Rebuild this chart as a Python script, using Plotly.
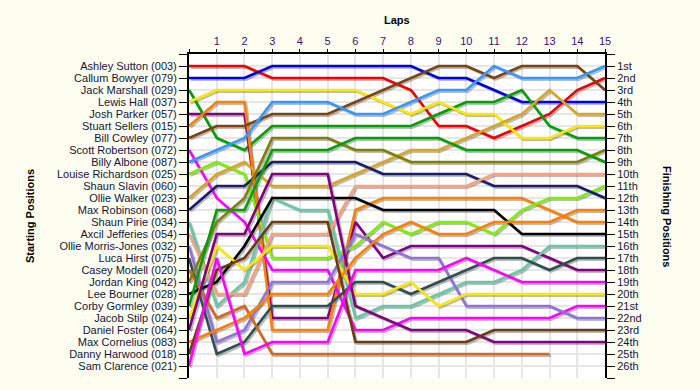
import plotly.graph_objects as go

laps = list(range(0, 16))

drivers = ["Ashley Sutton (003)", "Callum Bowyer (079)", "Jack Marshall (029)", "Lewis Hall (037)",
           "Josh Parker (057)", "Stuart Sellers (015)", "Bill Cowley (077)", "Scott Robertson (072)",
           "Billy Albone (087)", "Louise Richardson (025)", "Shaun Slavin (060)", "Ollie Walker (023)",
           "Max Robinson (068)", "Shaun Pirie (034)", "Axcil Jefferies (054)", "Ollie Morris-Jones (032)",
           "Luca Hirst (075)", "Casey Modell (020)", "Jordan King (042)", "Lee Bourner (028)",
           "Corby Gormley (039)", "Jacob Stilp (024)", "Daniel Foster (064)", "Max Cornelius (083)",
           "Danny Harwood (018)", "Sam Clarence (021)"]

finish_labels = ["1st", "2nd", "3rd", "4th", "5th", "6th", "7th", "8th", "9th", "10th", "11th", "12th", "13th",
                 "14th", "15th", "16th", "17th", "18th", "19th", "20th", "21st", "22nd", "23rd", "24th", "25th", "26th"]

# positions at start (lap 0) and after laps 1..15
sutton    = [1, 1, 1, 2, 2, 2, 2, 2, 3, 6, 6, 7, 6, 5, 3, 2]
bowyer    = [2, 2, 2, 1, 1, 1, 1, 1, 1, 2, 2, 3, 4, 4, 4, 4]
marshall  = [3, 7, 8, 6, 6, 6, 6, 6, 6, 5, 4, 4, 3, 6, 7, 7]
hall      = [4, 3, 3, 3, 3, 3, 3, 4, 5, 4, 5, 5, 7, 7, 6, 6]
parker    = [5, 5, 5, 22, 22, 22, 14, 17, 16, 16, 16, 16, 16, 17, 18, 18]
sellers   = [6, 4, 4, 23, 23, 23, 13, 12, 12, 12, 12, 12, 12, 13, 14, 14]
cowley    = [7, 6, 6, 5, 5, 5, 4, 3, 2, 1, 1, 2, 1, 1, 1, 3]
robertson = [8, 12, 14, 18, 18, 18, 23, 23, 22, 22, 22, 22, 22, 22, 21, 21]
albone    = [9, 8, 7, 4, 4, 4, 5, 5, 4, 3, 3, 1, 2, 2, 2, 1]
richardson = [10, 9, 10, 17, 17, 17, 16, 14, 15, 14, 14, 15, 13, 12, 12, 11]
slavin    = [None] * 16
walker    = [12, 10, 9, 11, 11, 11, 10, 9, 8, 8, 7, 6, 5, 3, 5, 5]
robinson  = [13, 11, 11, 9, 9, 9, 9, 10, 10, 10, 10, 11, 11, 11, 11, 12]
pirie     = [14, 21, 19, 12, 13, 13, 22, 21, 21, 20, 19, 19, 18, 16, 16, 16]
jefferies = [15, 20, 20, 15, 15, 15, 11, 11, 11, 11, 11, 10, 10, 10, 10, 10]
morris_jones = [16, 24, 23, 19, 19, 19, 15, 16, 17, 17, 21, 21, 21, 21, 22, 22]
hirst     = [17, 25, 24, 21, 21, 21, 19, 19, 20, 19, 18, 17, 17, 18, 17, 17]
modell    = [18, 22, 21, 25, 25, 25, 25, 25, 25, 25, 25, 25, 25, 25, None, None]
king      = [19, 14, 12, 7, 7, 7, 8, 8, 9, 9, 9, 9, 9, 9, 9, 8]
bourner   = [20, 19, 16, 12, 12, 12, 12, 13, 13, 13, 13, 13, 15, 15, 15, 15]
gormley   = [21, 13, 13, 8, 8, 8, 7, 7, 7, 7, 8, 8, 8, 8, 8, 9]
stilp     = [22, 16, 18, 16, 16, 16, 20, 20, 19, 21, 20, 20, 20, 20, 20, 20]
foster    = [23, 15, 15, 10, 10, 10, 21, 22, 23, 23, 23, 24, 24, 24, 24, 24]
cornelius = [24, 23, 22, 20, 20, 20, 17, 15, 14, 15, 15, 14, 14, 14, 13, 13]
harwood   = [25, 18, 17, 14, 14, 14, 24, 24, 24, 24, 24, 23, 23, 23, 23, 23]
clarence  = [26, 17, 25, 24, 24, 24, 18, 18, 18, 18, 17, 18, 19, 19, 19, 19]

series = [sutton, bowyer, marshall, hall, parker, sellers, cowley, robertson, albone, richardson,
          slavin, walker, robinson, pirie, jefferies, morris_jones, hirst, modell, king, bourner,
          gormley, stilp, foster, cornelius, harwood, clarence]

colors = ["#f00000", "#0000e0", "#00a000", "#ffe800", "#800080", "#ff8000", "#7d4310", "#ff00ff",
          "#3399ff", "#7cf000", "#888888", "#daa520", "#1c1c6c", "#66c8a8", "#ffa07a", "#9370db",
          "#2f4f4f", "#d2691e", "#808000", "#000000", "#00a000", "#ffe800", "#800080", "#ff8000",
          "#6b3a10", "#ff00ff"]

fig = go.Figure()

# dummy trace for the base (visible) axes
fig.add_trace(go.Scatter(x=[None], y=[None], xaxis="x", yaxis="y", showlegend=False, hoverinfo="skip"))

# shadows
for name, vals in zip(drivers, series):
    fig.add_trace(go.Scatter(x=laps, y=vals, mode="lines", xaxis="x2", yaxis="y2",
                             line=dict(color="rgba(60,60,60,0.35)", width=2.6),
                             showlegend=False, hoverinfo="skip"))
# lines
for name, vals, c in zip(drivers, series, colors):
    fig.add_trace(go.Scatter(x=laps, y=vals, mode="lines", name=name, xaxis="x3", yaxis="y3",
                             line=dict(color=c, width=2.6), showlegend=False))

txt = "#141438"
px_lap = 416 / 15
px_pos = 324 / 27
dx = 1.6 / px_lap
dy = 1.6 / px_pos

fig.update_layout(
    width=700, height=390,
    margin=dict(l=189, r=95, t=54, b=12, autoexpand=False),
    paper_bgcolor="#fefef0",
    plot_bgcolor="#ffffff",
    showlegend=False,
    font=dict(family="Liberation Sans, Arial, sans-serif", size=11, color=txt),
    xaxis=dict(side="top", range=[0, 15], tickvals=laps, ticktext=[""] + [str(i) for i in laps[1:]],
               showline=True, linecolor="black", linewidth=2, ticks="outside", ticklen=3,
               tickcolor="black", tickwidth=1, showgrid=True, gridcolor="#e6e6e6", gridwidth=1.5,
               zeroline=False, fixedrange=True, automargin=False,
               tickfont=dict(color="#3a1070")),
    yaxis=dict(range=[27, 0], tickvals=list(range(0, 28)), ticktext=[""] + drivers + [""],
               showline=True, linecolor="black", linewidth=2, ticks="outside", ticklen=8,
               tickcolor="black", tickwidth=1, showgrid=True, gridcolor="#e6e6e6", gridwidth=1.5,
               zeroline=False, fixedrange=True, automargin=False),
    xaxis2=dict(overlaying="x", range=[-dx, 15 - dx], visible=False, fixedrange=True),
    yaxis2=dict(overlaying="y", range=[27 - dy, -dy], visible=False, fixedrange=True),
    xaxis3=dict(overlaying="x", range=[0, 15], visible=False, fixedrange=True),
    yaxis3=dict(overlaying="y", side="right", anchor="x", range=[27, 0], tickvals=list(range(0, 28)),
                ticktext=[""] + finish_labels + [""], showline=True, linecolor="black", linewidth=2,
                ticks="outside", ticklen=8, tickcolor="black", tickwidth=1, showgrid=False,
                zeroline=False, fixedrange=True, automargin=False),
    annotations=[
        dict(text="<b>Laps</b>", xref="paper", yref="paper", x=0.5, y=1, yshift=42,
             showarrow=False, font=dict(size=11, color="black")),
        dict(text="<b>Starting Positions</b>", xref="paper", yref="paper", x=0, xshift=-167, y=0.5,
             textangle=-90, showarrow=False, font=dict(size=11, color="black")),
        dict(text="<b>Finishing Positions</b>", xref="paper", yref="paper", x=1, xshift=70, y=0.5,
             textangle=90, showarrow=False, font=dict(size=11, color="black")),
    ],
)

fig.write_html("out.html", config={"displayModeBar": False},
               post_script="document.body.style.margin='0';")
